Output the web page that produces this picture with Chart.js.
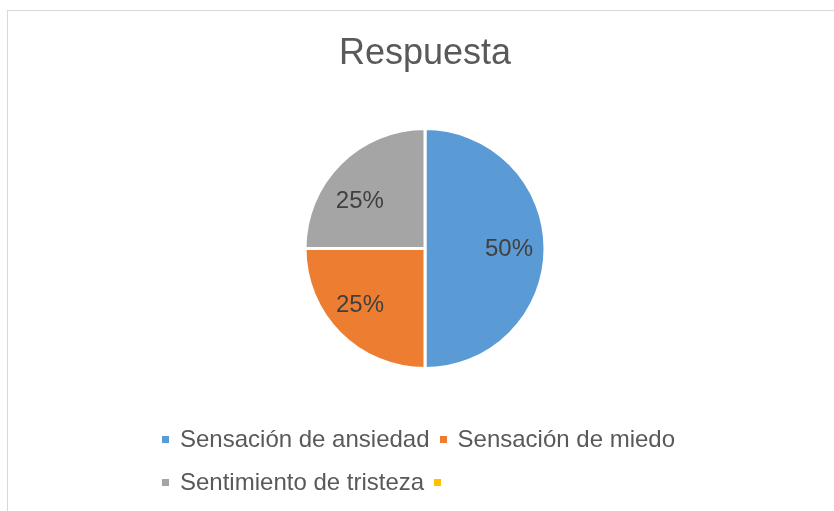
<!DOCTYPE html>
<html>
<head>
<meta charset="utf-8">
<script src="https://cdn.jsdelivr.net/npm/chart.js@4.4.1/dist/chart.umd.min.js"></script>
<style>
  html, body { margin: 0; padding: 0; background: #ffffff; }
  body { width: 834px; height: 511px; position: relative; overflow: hidden; font-family: "Liberation Sans", Arial, sans-serif; }
  #frame { position: absolute; left: 7px; top: 10px; width: 900px; height: 600px; border-left: 1px solid #d9d9d9; border-top: 1px solid #d9d9d9; box-sizing: border-box; }
  #wrap { position: absolute; left: 0; top: 0; width: 834px; height: 511px; }
  #legend { position: absolute; left: 162px; top: 0; width: 600px; }
  .row { position: absolute; left: 0; white-space: nowrap; height: 30px; line-height: 30px; font-size: 24px; color: #595959; }
  .item { display: inline-block; }
  .sq { display: inline-block; width: 7px; height: 7px; margin-right: 11px; vertical-align: middle; position: relative; top: -1px; }
  .gap { display: inline-block; width: 10px; }
</style>
</head>
<body>
<div id="frame"></div>
<div id="wrap"><canvas id="c" width="834" height="511"></canvas></div>
<div id="legend"></div>
<script>
const title = "Respuesta";
const categories = ["Sensación de ansiedad", "Sensación de miedo", "Sentimiento de tristeza", ""];
const values = [50, 25, 25, 0];
const colors = ["#5b9bd5", "#ed7d31", "#a5a5a5", "#ffc000"];
const legendRows = [[0, 1], [2, 3]];

const total = values.reduce((a, b) => a + b, 0);

const pctLabels = {
  id: "pctLabels",
  afterDatasetsDraw(chart, args, opts) {
    const ctx = chart.ctx;
    const meta = chart.getDatasetMeta(0);
    ctx.save();
    ctx.font = "24px 'Liberation Sans', Arial, sans-serif";
    ctx.fillStyle = "#404040";
    ctx.textAlign = "center";
    ctx.textBaseline = "middle";
    meta.data.forEach((arc, i) => {
      const v = values[i];
      if (!v) return;
      const p = arc.getProps(["x", "y", "startAngle", "endAngle", "outerRadius"], true);
      let mid = (p.startAngle + p.endAngle) / 2;
      const t = opts.tweak[i] || { da: 0, f: 0.7 };
      mid += t.da;
      const r = p.outerRadius * t.f;
      const txt = Math.round(v / total * 100) + "%";
      ctx.fillText(txt, p.x + Math.cos(mid) * r, p.y + Math.sin(mid) * r + 1);
    });
    ctx.restore();
  }
};

new Chart(document.getElementById("c"), {
  type: "pie",
  data: {
    labels: categories,
    datasets: [{
      data: values,
      backgroundColor: colors,
      borderColor: "#ffffff",
      borderWidth: 3,
      radius: 120
    }]
  },
  options: {
    responsive: false,
    animation: false,
    layout: { padding: { left: 16, right: 0, top: 0, bottom: 143 } },
    plugins: {
      legend: { display: false },
      tooltip: { enabled: false },
      title: {
        display: true,
        text: title,
        color: "#595959",
        font: { family: "'Liberation Sans', Arial, sans-serif", size: 36, weight: "normal" },
        padding: { top: 32, bottom: 54 }
      },
      pctLabels: {
        tweak: [
          { da: 0, f: 0.70 },
          { da: 0.075, f: 0.715 },
          { da: -0.15, f: 0.675 }
        ]
      }
    }
  },
  plugins: [pctLabels]
});

const legend = document.getElementById("legend");
const rowTops = [424, 467];
legendRows.forEach((row, ri) => {
  const div = document.createElement("div");
  div.className = "row";
  div.style.top = rowTops[ri] + "px";
  row.forEach((idx, k) => {
    if (k > 0) {
      const g = document.createElement("span");
      g.className = "gap";
      div.appendChild(g);
    }
    const it = document.createElement("span");
    it.className = "item";
    const sq = document.createElement("span");
    sq.className = "sq";
    sq.style.background = colors[idx];
    it.appendChild(sq);
    it.appendChild(document.createTextNode(categories[idx]));
    div.appendChild(it);
  });
  legend.appendChild(div);
});
</script>
</body>
</html>
